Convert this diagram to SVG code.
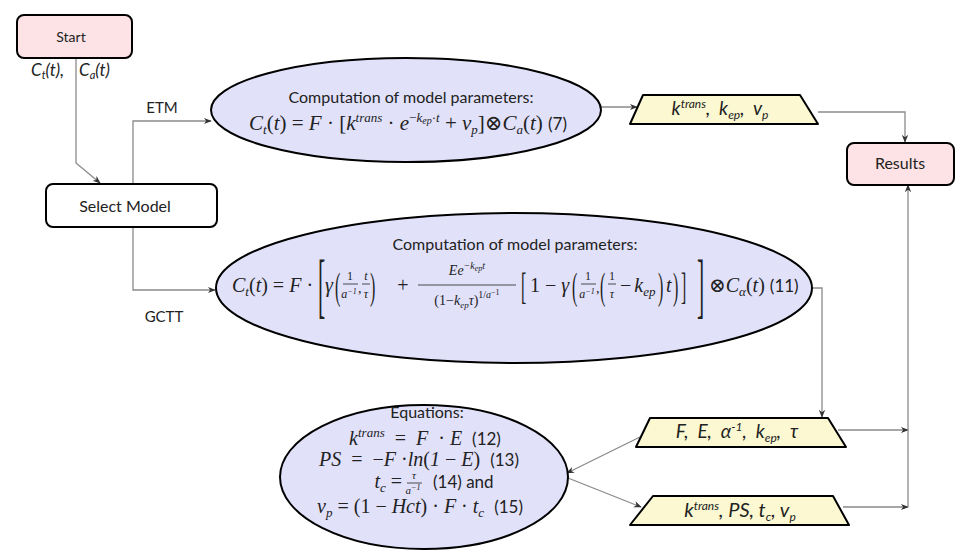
<svg xmlns="http://www.w3.org/2000/svg" width="957" height="551" viewBox="0 0 957 551">
<style>
.box { stroke:#000; stroke-width:2 }
.pink { fill:#fde3e5 }
.white { fill:#fff }
.ell { fill:#e1e1fa; stroke:#000; stroke-width:2 }
.trap { fill:#fbf8d2; stroke:#000; stroke-width:2; stroke-linejoin:round }
.c { fill:none; stroke:#8a8a8a; stroke-width:1.3; marker-end:url(#ah) }
.fl { stroke:#222; stroke-width:0.8 }
.s { font-family: Lato, "Liberation Sans", sans-serif; fill:#222 }
.m { font-family: "Liberation Serif", "DejaVu Serif", serif; fill:#222 }
.i { font-style: italic }
</style>
<defs>
<marker id="ah" viewBox="0 0 10 10" refX="9" refY="5" markerWidth="8" markerHeight="8" orient="auto" markerUnits="userSpaceOnUse"><path d="M0,1 L10,5 L0,9 L3,5 Z" fill="#333"/></marker>
</defs>
<rect width="957" height="551" fill="#fff"/>

<g id="connectors">
<path class="c" d="M76,58 V163 L100,183"/>
<path class="c" d="M133,184 V121 H211"/>
<path class="c" d="M133,227 V290 H215"/>
<path class="c" d="M601,107 H637"/>
<path class="c" d="M818,112 H905 V142"/>
<path class="c" d="M812,288 H822 V417"/>
<path class="c" d="M640,437 L567,473"/>
<path class="c" d="M568,478 L641,507"/>
<path class="c" d="M838,430 H908"/>
<path class="c" d="M843,507 H908"/>
<path class="c" d="M908,507 V185"/>
<text class="s" x="162" y="113" font-size="15" text-anchor="middle">ETM</text>
<text class="s" x="164" y="322" font-size="15" text-anchor="middle">GCTT</text>
</g>

<g id="start">
<rect class="box pink" x="17" y="15" width="115" height="43" rx="7"/>
<text class="s" x="71" y="42" font-size="14" text-anchor="middle">Start</text>
<text class="s i" x="31" y="76" font-size="17">C<tspan font-size="11" dy="3">t</tspan><tspan dy="-3">(t),</tspan></text>
<text class="s i" x="79" y="76" font-size="17">C<tspan font-size="11" dy="3">a</tspan><tspan dy="-3">(t)</tspan></text>
</g>

<g id="select">
<rect class="box white" x="46" y="184" width="171" height="43" rx="7"/>
<text class="s" x="125" y="212" font-size="16" text-anchor="middle">Select Model</text>
</g>

<g id="etm">
<ellipse class="ell" cx="406" cy="110" rx="195" ry="52"/>
<text class="s" x="411" y="103" font-size="16" text-anchor="middle">Computation of model parameters:</text>
<text class="m" x="408" y="130" font-size="21" text-anchor="middle"><tspan class="i">C</tspan><tspan class="i" font-size="13" dy="4">t</tspan><tspan dy="-4">(</tspan><tspan class="i">t</tspan>) = <tspan class="i">F</tspan> · [<tspan class="i">k</tspan><tspan class="i" font-size="13" dy="-8">trans</tspan><tspan dy="8"> · </tspan><tspan class="i">e</tspan><tspan font-size="13" dy="-8">−</tspan><tspan class="i" font-size="13">k</tspan><tspan class="i" font-size="10" dy="2">ep</tspan><tspan font-size="13" dy="-2">·</tspan><tspan class="i" font-size="13">t</tspan><tspan dy="8"> + </tspan><tspan class="i">v</tspan><tspan class="i" font-size="13" dy="4">p</tspan><tspan dy="-4">]⊗</tspan><tspan class="i">C</tspan><tspan class="i" font-size="13" dy="4">a</tspan><tspan dy="-4">(</tspan><tspan class="i">t</tspan>) <tspan class="s" font-size="17">(7)</tspan></text>
</g>

<g id="out-etm">
<path class="trap" d="M643,95 L800,95 L818,124 L630,124 Z"/>
<text class="s i" x="720" y="115" font-size="19" text-anchor="middle">k<tspan font-size="12" dy="-7">trans</tspan><tspan dy="7">,&#160;&#160;k</tspan><tspan font-size="12" dy="4">ep</tspan><tspan dy="-4">,&#160;&#160;v</tspan><tspan font-size="12" dy="4">p</tspan></text>
</g>

<g id="results">
<rect class="box pink" x="847" y="143" width="107" height="42" rx="7"/>
<text class="s" x="900" y="169" font-size="16" text-anchor="middle">Results</text>
</g>

<g id="gctt">
<ellipse class="ell" cx="514" cy="288" rx="298" ry="75"/>
<text class="s" x="515" y="250" font-size="16" text-anchor="middle">Computation of model parameters:</text>
<text class="m" x="232" y="292" font-size="20"><tspan class="i">C</tspan><tspan class="i" font-size="13" dy="4">t</tspan><tspan dy="-4">(</tspan><tspan class="i">t</tspan>) = <tspan class="i">F</tspan> ·</text>
<text class="m" font-size="72" transform="translate(318,309) scale(0.3,1)">[</text>
<text class="m i" x="325" y="292" font-size="20">γ</text>
<text class="m" font-size="38" transform="translate(335,299) scale(0.42,1)">(</text>
<text class="m" x="350" y="280" font-size="12" text-anchor="middle">1</text>
<line class="fl" x1="343" y1="284" x2="358" y2="284"/>
<text class="m i" x="349" y="298" font-size="12" text-anchor="middle">a<tspan font-size="8" dy="-4">−1</tspan></text>
<text class="m" x="358" y="293" font-size="14">,</text>
<text class="m i" x="366" y="280" font-size="12" text-anchor="middle">t</text>
<line class="fl" x1="362" y1="284" x2="370" y2="284"/>
<text class="m i" x="366" y="298" font-size="12" text-anchor="middle">τ</text>
<text class="m" font-size="38" transform="translate(370,299) scale(0.42,1)">)</text>
<text class="m" x="403" y="292" font-size="20" text-anchor="middle">+</text>
<text class="m i" x="467" y="275" font-size="14" text-anchor="middle">Ee<tspan font-size="10" dy="-6">−k</tspan><tspan font-size="8" dy="2">ep</tspan><tspan font-size="10" dy="-2">t</tspan></text>
<line class="fl" x1="418" y1="285" x2="516" y2="285"/>
<text class="m" x="467" y="305" font-size="14" text-anchor="middle">(1−<tspan class="i">k</tspan><tspan class="i" font-size="9" dy="3">ep</tspan><tspan class="i" dy="-3">τ</tspan>)<tspan font-size="10" dy="-7">1/</tspan><tspan class="i" font-size="10">a</tspan><tspan font-size="8" dy="-3">−1</tspan></text>
<text class="m" font-size="38" transform="translate(521,299) scale(0.42,1)">[</text>
<text class="m" x="530" y="292" font-size="20">1 − <tspan class="i">γ</tspan></text>
<text class="m" font-size="38" transform="translate(572,299) scale(0.42,1)">(</text>
<text class="m" x="588" y="280" font-size="12" text-anchor="middle">1</text>
<line class="fl" x1="581" y1="284" x2="596" y2="284"/>
<text class="m i" x="587" y="298" font-size="12" text-anchor="middle">a<tspan font-size="8" dy="-4">−1</tspan></text>
<text class="m" x="596" y="293" font-size="14">,</text>
<text class="m" font-size="38" transform="translate(600,299) scale(0.42,1)">(</text>
<text class="m" x="612" y="280" font-size="12" text-anchor="middle">1</text>
<line class="fl" x1="608" y1="284" x2="616" y2="284"/>
<text class="m i" x="612" y="298" font-size="12" text-anchor="middle">τ</text>
<text class="m" x="620" y="292" font-size="20">−<tspan class="i" dx="3">k</tspan><tspan class="i" font-size="13" dy="4">ep</tspan></text>
<text class="m" font-size="38" transform="translate(658,299) scale(0.42,1)">)</text>
<text class="m i" x="666" y="292" font-size="20">t</text>
<text class="m" font-size="38" transform="translate(673,299) scale(0.42,1)">)</text>
<text class="m" font-size="38" transform="translate(681,299) scale(0.42,1)">]</text>
<text class="m" font-size="72" transform="translate(697,309) scale(0.3,1)">]</text>
<text class="m" x="709" y="292" font-size="20">⊗<tspan class="i">C</tspan><tspan class="i" font-size="13" dy="4">α</tspan><tspan dy="-4">(</tspan><tspan class="i">t</tspan>) <tspan class="s" font-size="17">(11)</tspan></text>
</g>

<g id="out-gctt">
<path class="trap" d="M650,418 L828,418 L846,447 L636,447 Z"/>
<text class="s i" x="737" y="438" font-size="19" text-anchor="middle">F,&#160;&#160;E,&#160;&#160;α<tspan font-size="12" dy="-7">-1</tspan><tspan dy="7">,&#160;&#160;k</tspan><tspan font-size="12" dy="4">ep</tspan><tspan dy="-4">,&#160;&#160;τ</tspan></text>
</g>

<g id="equations">
<ellipse class="ell" cx="424" cy="477" rx="144" ry="72"/>
<text class="s" x="427" y="418" font-size="16" text-anchor="middle">Equations:</text>
<text class="m" x="425" y="445" font-size="20" text-anchor="middle"><tspan class="i">k</tspan><tspan class="i" font-size="13" dy="-8">trans</tspan><tspan dy="8">&#160;&#160;=&#160;&#160;</tspan><tspan class="i">F</tspan>&#160;&#160;·&#160;<tspan class="i">E</tspan>&#160;&#160;<tspan class="s" font-size="17">(12)</tspan></text>
<text class="m" x="419" y="466" font-size="20" text-anchor="middle"><tspan class="i">PS</tspan>&#160;&#160;=&#160;&#160;−<tspan class="i">F</tspan>&#160;·<tspan class="i">ln</tspan>(<tspan class="i">1</tspan> − <tspan class="i">E</tspan>)&#160;&#160;<tspan class="s" font-size="17">(13)</tspan></text>
<text class="m i" x="402" y="488" font-size="20" text-anchor="end">t<tspan font-size="13" dy="4">c</tspan><tspan font-style="normal" dy="-4"> =</tspan></text>
<text class="m i" x="414" y="479" font-size="11" text-anchor="middle">τ</text>
<line class="fl" x1="407" y1="483" x2="422" y2="483"/>
<text class="m i" x="413" y="494" font-size="11" text-anchor="middle">a<tspan font-size="8" dy="-4">−1</tspan></text>
<text class="s" x="433" y="488" font-size="17">(14) and</text>
<text class="m" x="420" y="513" font-size="20" text-anchor="middle"><tspan class="i">v</tspan><tspan class="i" font-size="13" dy="4">p</tspan><tspan dy="-4"> = (1 − </tspan><tspan class="i">Hct</tspan>) · <tspan class="i">F</tspan>&#160;· <tspan class="i">t</tspan><tspan class="i" font-size="13" dy="4">c</tspan><tspan dy="-4">&#160;&#160;</tspan><tspan class="s" font-size="17">(15)</tspan></text>
</g>

<g id="out-eq">
<path class="trap" d="M653,496 L833,496 L849,525 L630,525 Z"/>
<text class="s i" x="740" y="517" font-size="20" text-anchor="middle">k<tspan font-size="12" dy="-7">trans</tspan><tspan dy="7">,&#160;PS,&#160;t</tspan><tspan font-size="12" dy="4">c</tspan><tspan dy="-4">,&#160;v</tspan><tspan font-size="12" dy="4">p</tspan></text>
</g>
</svg>
